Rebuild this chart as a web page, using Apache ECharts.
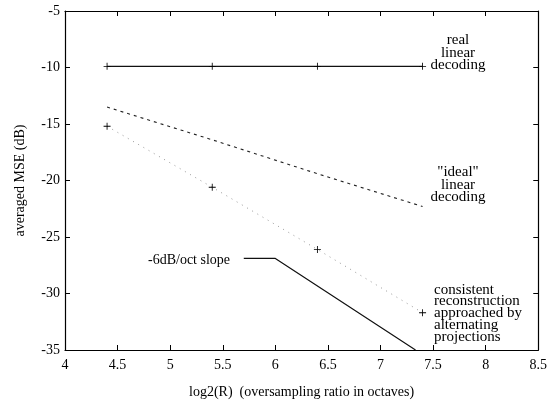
<!DOCTYPE html>
<html><head><meta charset="utf-8">
<script src="https://cdn.jsdelivr.net/npm/echarts@6/dist/echarts.min.js"></script>
<style>html,body{margin:0;padding:0;background:#fff}#c{width:550px;height:404px}</style>
</head><body><div id="c"></div>
<script>
const octaves = [4.4, 5.4, 6.4, 7.4];
const realLinear = [-9.9, -9.9, -9.9, -9.9];
const idealLinear = [-13.5, -16.4, -19.4, -22.3];
const consistent = [-15.2, -20.6, -26.1, -31.7];
const slopeX = [5.7, 6.0, 7.333];
const slopeY = [-26.9, -26.9, -35];
const xTicks = [4, 4.5, 5, 5.5, 6, 6.5, 7, 7.5, 8, 8.5];
const yTicks = [-35, -30, -25, -20, -15, -10, -5];

const pair = (xs, ys) => xs.map((x, i) => [x, ys[i]]);
const FONT = '"Liberation Serif", "Times New Roman", serif';
const plus = 'path://M-1,-0.12h2v0.24h-2z M-0.12,-1h0.24v2h-0.24z';

const chart = echarts.init(document.getElementById('c'));
const axisCommon = {
  axisLine: {show: true, lineStyle: {color: '#000', width: 1.2}},
  axisTick: {show: true, inside: true, length: 5, lineStyle: {color: '#000'}},
  splitLine: {show: false}
};
chart.setOption({
  animation: false,
  backgroundColor: '#fff',
  grid: {left: 65, right: 10, top: 11, bottom: 50},
  xAxis: [
    Object.assign({type: 'value', min: 4, max: 8.5, interval: 0.5, position: 'bottom',
      name: 'log2(R)  (oversampling ratio in octaves)', nameLocation: 'middle', nameGap: 35,
      nameTextStyle: {fontFamily: FONT, fontSize: 14, color: '#000'},
      axisLabel: {fontFamily: FONT, fontSize: 14, color: '#000', margin: 8,
        formatter: v => String(v)}}, axisCommon),
    Object.assign({type: 'value', min: 4, max: 8.5, interval: 0.5, position: 'top',
      axisLabel: {show: false}}, axisCommon)
  ],
  yAxis: [
    Object.assign({type: 'value', min: -35, max: -5, interval: 5, position: 'left',
      name: 'averaged MSE (dB)', nameLocation: 'middle', nameGap: 38,
      nameTextStyle: {fontFamily: FONT, fontSize: 14, color: '#000'},
      axisLabel: {fontFamily: FONT, fontSize: 14, color: '#000', margin: 5}}, axisCommon),
    Object.assign({type: 'value', min: -35, max: -5, interval: 5, position: 'right',
      axisLabel: {show: false}}, axisCommon)
  ],
  series: [
    {type: 'line', data: pair(octaves, realLinear), symbol: plus, symbolSize: 7,
      itemStyle: {color: '#000'}, lineStyle: {color: '#111', width: 1.3}},
    {type: 'line', data: pair(octaves, idealLinear), symbol: 'none',
      lineStyle: {color: '#222', width: 1.1, type: [3, 4]}},
    {type: 'line', data: pair(octaves, consistent), symbol: plus, symbolSize: 7,
      itemStyle: {color: '#000'}, lineStyle: {color: '#999', width: 1, type: [1, 5]}},
    {type: 'line', data: pair(slopeX, slopeY), symbol: 'none',
      lineStyle: {color: '#111', width: 1.2}}
  ],
  graphic: [
    {type: 'text', x: 458, y: 34, style: {text: 'real\nlinear\ndecoding', fontFamily: FONT, fontSize: 15,
      lineHeight: 12.5, align: 'center', verticalAlign: 'top', fill: '#000'}},
    {type: 'text', x: 458, y: 166, style: {text: '"ideal"\nlinear\ndecoding', fontFamily: FONT, fontSize: 15,
      lineHeight: 12.5, align: 'center', verticalAlign: 'top', fill: '#000'}},
    {type: 'text', x: 148, y: 253, style: {text: '-6dB/oct slope', fontFamily: FONT, fontSize: 14,
      verticalAlign: 'top', fill: '#000'}},
    {type: 'text', x: 434, y: 284, style: {text: 'consistent\nreconstruction\napproached by\nalternating\nprojections',
      fontFamily: FONT, fontSize: 15, lineHeight: 11.7, verticalAlign: 'top', fill: '#000'}}
  ]
});
</script></body></html>
